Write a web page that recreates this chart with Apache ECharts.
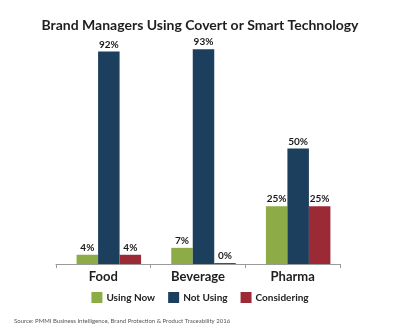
<!DOCTYPE html>
<html>
<head>
<meta charset="utf-8">
<script src="https://cdn.jsdelivr.net/npm/echarts@6/dist/echarts.min.js"></script>
<style>
html,body{margin:0;padding:0;background:#fff;}
#chart{width:400px;height:326px;}
</style>
</head>
<body>
<div id="chart"></div>
<script>
const categories = ['Food', 'Beverage', 'Pharma'];
const seriesNames = ['Using Now', 'Not Using', 'Considering'];
const usingNow = [4, 7, 25];
const notUsing = [92, 93, 50];
const considering = [4, 0, 25];
const colors = ['#8dab46', '#1c3f5d', '#9c2a36'];

const chart = echarts.init(document.getElementById('chart'), null, {renderer: 'canvas'});
const font = 'Lato';
function bar(name, data, color) {
  return {
    name: name,
    type: 'bar',
    xAxisIndex: 1,
    yAxisIndex: 1,
    data: data,
    barWidth: 21.5,
    barGap: '0%',
    barMinHeight: 1,
    itemStyle: {color: color},
    label: {
      show: true,
      position: 'top',
      distance: 2,
      formatter: '{c}%',
      fontFamily: font,
      fontWeight: 'bold',
      fontSize: 10,
      color: '#1a1a1a'
    }
  };
}
chart.setOption({
  animation: false,
  backgroundColor: '#fff',
  title: [{
    text: 'Brand Managers Using Covert or Smart Technology',
    left: 'center',
    top: 13,
    textStyle: {fontFamily: font, fontWeight: 'bold', fontSize: 14, color: '#1e1e1e'}
  }, {
    text: 'Source: PMMI Business Intelligence, Brand Protection & Product Traceability 2016',
    left: 9,
    top: 313,
    textStyle: {fontFamily: font, fontWeight: 'normal', fontSize: 6, color: '#555'}
  }],
  legend: {
    data: seriesNames,
    left: 'center',
    top: 287,
    itemWidth: 11,
    itemHeight: 11,
    itemGap: 13,
    icon: 'rect',
    textStyle: {fontFamily: font, fontWeight: 'bold', fontSize: 10, color: '#222', padding: [0, 0, 0, -1]}
  },
  grid: [
    {left: 56, right: 60, top: 33, bottom: 62},
    {left: 61.5, right: 54.5, top: 33, bottom: 62}
  ],
  xAxis: [{
    type: 'category',
    gridIndex: 0,
    data: categories,
    axisLine: {lineStyle: {color: '#9a9a9a', width: 1}},
    axisTick: {show: true, length: 4, lineStyle: {color: '#9a9a9a'}},
    axisLabel: {fontFamily: font, fontWeight: 'bold', fontSize: 13, color: '#1e1e1e', margin: 6}
  }, {
    type: 'category',
    gridIndex: 1,
    data: categories,
    show: false
  }],
  yAxis: [{
    type: 'value', gridIndex: 0, min: 0, max: 100, show: false
  }, {
    type: 'value', gridIndex: 1, min: 0, max: 100, show: false
  }],
  series: [
    bar(seriesNames[0], usingNow, colors[0]),
    bar(seriesNames[1], notUsing, colors[1]),
    bar(seriesNames[2], considering, colors[2])
  ]
});
</script>
</body>
</html>
